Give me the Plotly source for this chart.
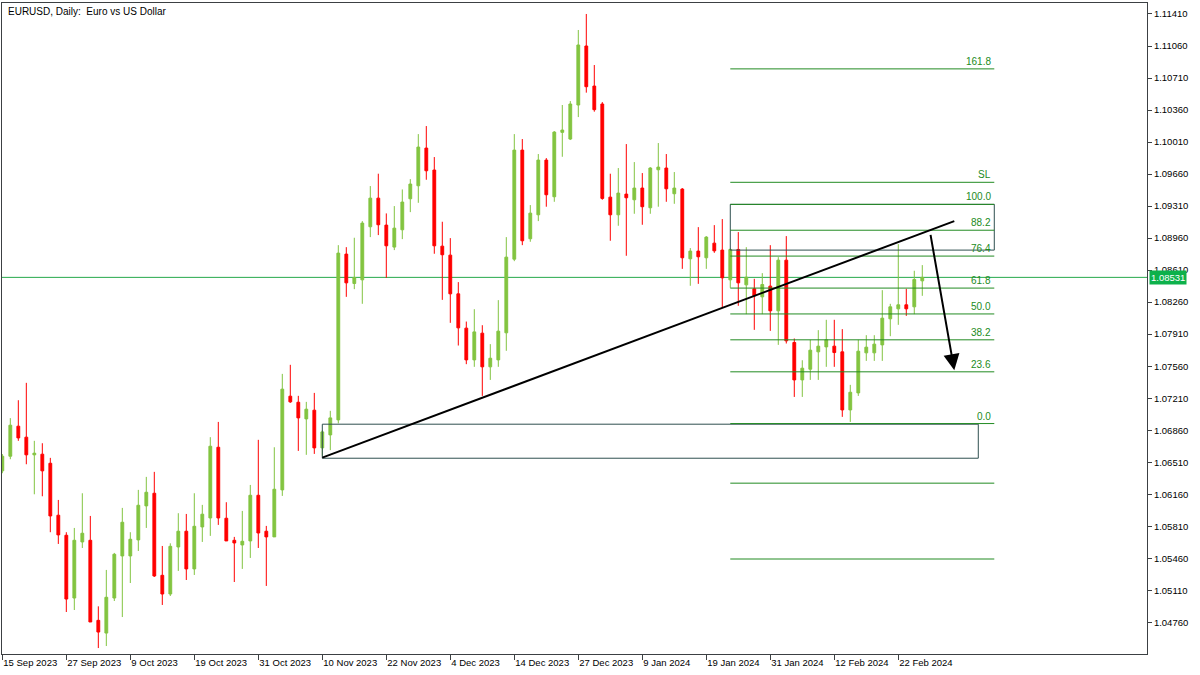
import plotly.graph_objects as go
import pandas as pd

# ---------------- data ----------------
opens = [1.06416, 1.06576, 1.06904, 1.06784, 1.06591, 1.06598, 1.06499, 1.05931, 1.05712, 1.05026,
         1.05639, 1.05657, 1.04782, 1.04643, 1.05026, 1.05486, 1.05486, 1.05661, 1.06033, 1.06171,
         1.05274, 1.05070, 1.05584, 1.05756, 1.05344, 1.05803, 1.05901, 1.06674, 1.05898, 1.05657,
         1.05606, 1.05650, 1.06149, 1.05756, 1.05694, 1.06208, 1.07232, 1.07166, 1.06984, 1.07079,
         1.06667, 1.06809, 1.06973, 1.08785, 1.08464, 1.08504, 1.09084, 1.09397, 1.09102, 1.08862,
         1.09051, 1.09390, 1.09532, 1.09944, 1.09704, 1.08872, 1.08774, 1.08351, 1.07976, 1.07629,
         1.07921, 1.07553, 1.07629, 1.07925, 1.08730, 1.09922, 1.08953, 1.09215, 1.09813, 1.09412,
         1.10116, 1.10043, 1.10415, 1.11060, 1.10622, 1.10426, 1.09408, 1.09215, 1.09441, 1.09379,
         1.09507, 1.09292, 1.09707, 1.09726, 1.09445, 1.09496, 1.08734, 1.08818, 1.08745, 1.08905,
         1.08829, 1.08504, 1.08836, 1.08449, 1.08406, 1.08318, 1.08435, 1.08165, 1.08719, 1.07819,
         1.07410, 1.07527, 1.07717, 1.07771, 1.07779, 1.07717, 1.07082, 1.07268, 1.07706, 1.07706,
         1.07793, 1.08078, 1.08187, 1.08231, 1.08209, 1.08493]
highs = [1.06600, 1.06992, 1.07188, 1.07378, 1.06744, 1.06718, 1.06558, 1.06098, 1.05745, 1.05792,
         1.06171, 1.05923, 1.04935, 1.05333, 1.05519, 1.06011, 1.05745, 1.06208, 1.06350, 1.06405,
         1.05595, 1.05624, 1.05953, 1.05945, 1.06171, 1.06044, 1.06784, 1.06951, 1.06073, 1.05694,
         1.05978, 1.06262, 1.06755, 1.05814, 1.06674, 1.07476, 1.07575, 1.07236, 1.07170, 1.07268,
         1.06860, 1.07072, 1.08883, 1.08861, 1.08964, 1.09146, 1.09529, 1.09664, 1.09230, 1.09310,
         1.09492, 1.09605, 1.10097, 1.10185, 1.09846, 1.09139, 1.08960, 1.08479, 1.08048, 1.08183,
         1.08008, 1.07801, 1.08282, 1.08971, 1.10097, 1.10043, 1.09321, 1.09879, 1.09835, 1.10130,
         1.10415, 1.10458, 1.11235, 1.11410, 1.10852, 1.10447, 1.09664, 1.09726, 1.09988, 1.09791,
         1.09671, 1.09736, 1.09999, 1.09879, 1.09682, 1.09507, 1.08851, 1.09080, 1.08982, 1.09102,
         1.09168, 1.08847, 1.09026, 1.08861, 1.08515, 1.08577, 1.08883, 1.08752, 1.08982, 1.07863,
         1.07625, 1.07848, 1.07954, 1.08067, 1.08067, 1.07965, 1.07356, 1.07848, 1.07899, 1.07899,
         1.08391, 1.08242, 1.08894, 1.08406, 1.08603, 1.08665]
lows = [1.06390, 1.06543, 1.06744, 1.06488, 1.06160, 1.06138, 1.05745, 1.05617, 1.04873, 1.04895,
        1.05573, 1.04764, 1.04479, 1.04501, 1.04993, 1.04818, 1.05190, 1.05540, 1.05792, 1.05256,
        1.04950, 1.05048, 1.05322, 1.05223, 1.05278, 1.05639, 1.05705, 1.05825, 1.05650, 1.05201,
        1.05344, 1.05464, 1.05573, 1.05158, 1.05694, 1.06142, 1.07159, 1.06634, 1.06591, 1.06601,
        1.06580, 1.06642, 1.06935, 1.08318, 1.08402, 1.08242, 1.08971, 1.08993, 1.08526, 1.08829,
        1.08949, 1.09244, 1.09346, 1.09598, 1.08789, 1.08285, 1.08034, 1.07786, 1.07582, 1.07553,
        1.07235, 1.07410, 1.07553, 1.07728, 1.08708, 1.08883, 1.08920, 1.09146, 1.09303, 1.09357,
        1.09849, 1.10032, 1.10283, 1.10550, 1.10342, 1.09379, 1.08931, 1.09095, 1.08767, 1.09226,
        1.09106, 1.09226, 1.09303, 1.09357, 1.09335, 1.08624, 1.08439, 1.08460, 1.08624, 1.08799,
        1.08202, 1.08417, 1.08220, 1.08129, 1.07957, 1.08129, 1.07946, 1.07793, 1.07808, 1.07224,
        1.07224, 1.07410, 1.07410, 1.07553, 1.07553, 1.07006, 1.06951, 1.07235, 1.07618, 1.07618,
        1.07618, 1.07888, 1.08012, 1.08110, 1.08129, 1.08329]
closes = [1.06576, 1.06915, 1.06776, 1.06591, 1.06609, 1.06416, 1.05923, 1.05716, 1.05015, 1.05657,
          1.05734, 1.04764, 1.04654, 1.05034, 1.05504, 1.05854, 1.05668, 1.06040, 1.06182, 1.05267,
          1.05070, 1.05591, 1.05756, 1.05344, 1.05810, 1.05942, 1.06685, 1.05901, 1.05650, 1.05628,
          1.05646, 1.06149, 1.05737, 1.05694, 1.06215, 1.07309, 1.07170, 1.06995, 1.07090, 1.06667,
          1.06842, 1.06995, 1.08796, 1.08471, 1.08530, 1.09124, 1.09397, 1.09106, 1.08876, 1.09069,
          1.09354, 1.09551, 1.09955, 1.09696, 1.08876, 1.08778, 1.08351, 1.07979, 1.07629, 1.07935,
          1.07553, 1.07647, 1.07943, 1.08752, 1.09922, 1.08931, 1.09233, 1.09813, 1.09434, 1.10119,
          1.10141, 1.10426, 1.11071, 1.10615, 1.10364, 1.09394, 1.09215, 1.09452, 1.09401, 1.09507,
          1.09303, 1.09726, 1.09736, 1.09499, 1.09507, 1.08745, 1.08818, 1.08756, 1.08971, 1.08821,
          1.08526, 1.08836, 1.08471, 1.08533, 1.08329, 1.08453, 1.08165, 1.08719, 1.07837, 1.07410,
          1.07538, 1.07735, 1.07779, 1.07848, 1.07709, 1.07082, 1.07275, 1.07724, 1.07768, 1.07801,
          1.08085, 1.08209, 1.08231, 1.08187, 1.08508, 1.08531]

first_day = "2023-09-15"
market_holidays = ["2023-12-25", "2024-01-01"]
tick_every = 8

bid_price = 1.08531

# trend line (bar index, price) and the support zone
trend_start = (40, 1.06561)
trend_end = (119, 1.09146)
zone_bars = (40, 122)
zone_prices = (1.06554, 1.06926)

# Fibonacci retracement
fib_bars = (91, 124)
fib_low = 1.06933
fib_high = 1.09329
fib_levels = [161.8, 100.0, 88.2, 76.4, 61.8, 50.0, 38.2, 23.6, 0.0, -27.2, -61.8]
fib_labels = ["161.8", "100.0", "88.2", "76.4", "61.8", "50.0", "38.2", "23.6", "0.0", "", ""]
sl_price = 1.09570
sell_box_prices = (1.08829, 1.09329)

# projected move arrow
arrow_from = (116, 1.09011)
arrow_to = (119, 1.07516)

# axes
y_range = (1.04414, 1.11530)
x_range = (-0.04, 143.09)
y_tick0 = 1.04760
y_dtick = 0.0035

# ---------------- derived ----------------
N = len(opens)
bdays = pd.bdate_range(first_day, periods=N + len(market_holidays))
dates = [d for d in bdays if d.strftime("%Y-%m-%d") not in market_holidays][:N]
bar_x = list(range(N))
tick_idx = list(range(0, N, tick_every))
tick_text = [f"{dates[i].day} {dates[i]:%b %Y}" for i in tick_idx]

BULL = "#83C441"
BEAR = "#FF0000"
FIB = "#228B22"
BOX = "#2F4F4F"
FRAME = "#3c4043"
FONT = "Liberation Sans"

fig = go.Figure()
fig.add_trace(go.Candlestick(
    x=bar_x, open=opens, high=highs, low=lows, close=closes,
    increasing=dict(line=dict(color=BULL, width=1), fillcolor=BULL),
    decreasing=dict(line=dict(color=BEAR, width=1), fillcolor=BEAR),
    whiskerwidth=0,
    hovertext=[d.strftime("%d %b %Y") for d in dates],
    showlegend=False,
))

shapes = []
# bid line
shapes.append(dict(type="line", xref="paper", x0=0, x1=1, yref="y", y0=bid_price, y1=bid_price,
                   line=dict(color="#25A84B", width=1), layer="below"))
# support zone
shapes.append(dict(type="rect", x0=zone_bars[0], x1=zone_bars[1], y0=zone_prices[0], y1=zone_prices[1],
                   line=dict(color=BOX, width=1), fillcolor="rgba(0,0,0,0)"))
# sell box
shapes.append(dict(type="rect", x0=fib_bars[0], x1=fib_bars[1], y0=sell_box_prices[0], y1=sell_box_prices[1],
                   line=dict(color=BOX, width=1), fillcolor="rgba(0,0,0,0)"))
# fib levels
annotations = []
for lvl, lab in zip(fib_levels, fib_labels):
    p = fib_low + (fib_high - fib_low) * lvl / 100.0
    shapes.append(dict(type="line", x0=fib_bars[0], x1=fib_bars[1], y0=p, y1=p,
                       line=dict(color=FIB, width=1)))
    if lab:
        annotations.append(dict(x=fib_bars[1], y=p, text=lab, showarrow=False, xanchor="right",
                                yanchor="bottom", xshift=-1, yshift=0,
                                font=dict(family=FONT, size=10, color=FIB)))
# SL line
shapes.append(dict(type="line", x0=fib_bars[0], x1=fib_bars[1], y0=sl_price, y1=sl_price,
                   line=dict(color=FIB, width=1)))
annotations.append(dict(x=fib_bars[1], y=sl_price, text="SL", showarrow=False, xanchor="right",
                        yanchor="bottom", xshift=-1, font=dict(family=FONT, size=10, color=FIB)))
# trend line
shapes.append(dict(type="line", x0=trend_start[0], y0=trend_start[1], x1=trend_end[0], y1=trend_end[1],
                   line=dict(color="#000000", width=2)))

# arrow
annotations.append(dict(x=arrow_to[0], y=arrow_to[1], ax=arrow_from[0], ay=arrow_from[1],
                        xref="x", yref="y", axref="x", ayref="y", text="", showarrow=True,
                        arrowhead=2, arrowsize=1.6, arrowwidth=2, arrowcolor="#000000"))
# title
annotations.append(dict(xref="paper", yref="paper", x=0, y=1, xanchor="left", yanchor="top",
                        xshift=4, yshift=-1, showarrow=False,
                        text="EURUSD, Daily:\u00a0 Euro vs US Dollar",
                        font=dict(family=FONT, size=10, color="#000000")))
# bid label
annotations.append(dict(xref="paper", yref="y", x=1, y=bid_price, xanchor="left", yanchor="middle",
                        xshift=2, showarrow=False, text=f"{bid_price:.5f}",
                        bgcolor="#0DB14B", borderpad=1,
                        font=dict(family=FONT, size=9.5, color="#FFFFFF")))

fig.update_layout(
    width=1200, height=675,
    margin=dict(l=2, r=53, t=3, b=21, autoexpand=False),
    paper_bgcolor="white", plot_bgcolor="white",
    shapes=shapes, annotations=annotations,
    boxgap=0.5,
    showlegend=False,
    hovermode=False,
    font=dict(family=FONT, size=9.5, color="#000000"),
    xaxis=dict(range=list(x_range), rangeslider=dict(visible=False), showgrid=False, zeroline=False,
               tickmode="array", tickvals=tick_idx, ticktext=tick_text,
               ticks="outside", ticklen=5, tickcolor=FRAME, ticklabelposition="outside right",
               showline=True, linecolor=FRAME, linewidth=1, mirror=True, automargin=False,
               tickfont=dict(family=FONT, size=9.5, color="#000000")),
    yaxis=dict(range=list(y_range), side="right", showgrid=False, zeroline=False,
               tick0=y_tick0, dtick=y_dtick, tickformat=".5f",
               ticks="outside", ticklen=4, tickcolor=FRAME, automargin=False,
               showline=True, linecolor=FRAME, linewidth=1, mirror=True,
               tickfont=dict(family=FONT, size=9.5, color="#000000")),
)

fig.write_html("out.html", config={"displayModeBar": False},
               post_script="document.body.style.margin='0';document.body.style.overflow='hidden';")
